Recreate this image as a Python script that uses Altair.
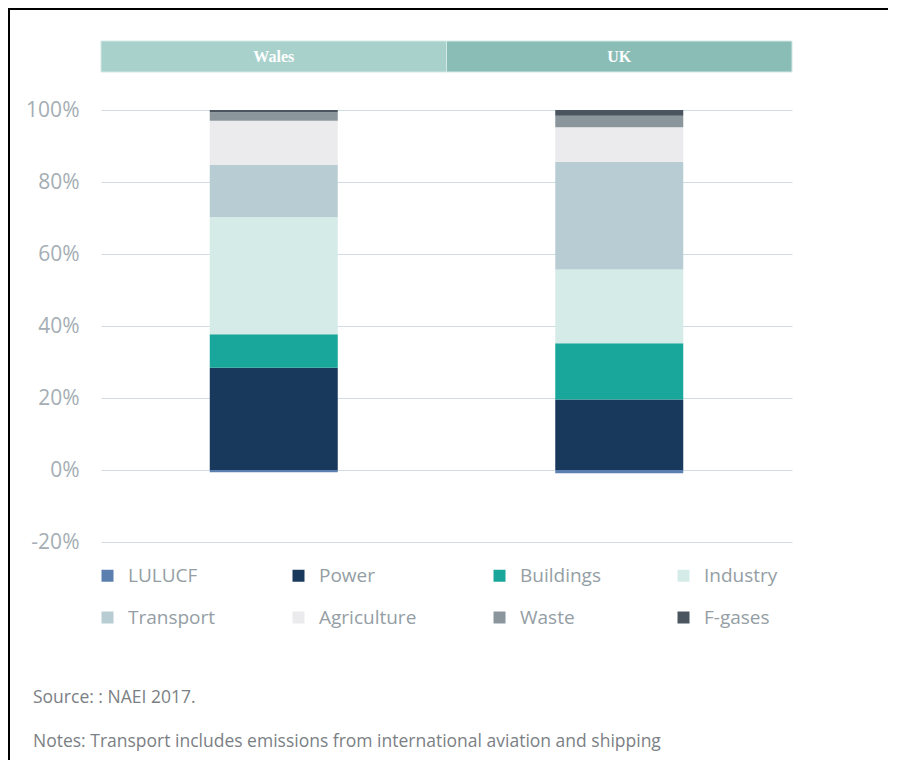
import altair as alt
import pandas as pd

regions = ["Wales", "UK"]
sectors = ["LULUCF", "Power", "Buildings", "Industry", "Transport", "Agriculture", "Waste", "F-gases"]
wales_share = [-0.6, 28.4, 9.3, 32.5, 14.5, 12.3, 2.4, 0.6]
uk_share = [-0.9, 19.6, 15.6, 20.5, 29.9, 9.6, 3.2, 1.6]
y_ticks = [-20, 0, 20, 40, 60, 80, 100]
source_note = "Source: : NAEI 2017."
notes_text = "Notes: Transport includes emissions from international aviation and shipping"

sector_colors = ["#5b7fae", "#19395c", "#1aa79b", "#d5ebe8", "#b7ccd3", "#ebebed", "#8a969c", "#4a5560"]

rows = []
for region, values in zip(regions, [wales_share, uk_share]):
    for i, (s, v) in enumerate(zip(sectors, values)):
        rows.append({"region": region, "sector": s, "share": v, "order": i})
df = pd.DataFrame(rows)

W, H = 691, 432
xscale = alt.Scale(domain=regions, paddingInner=0, paddingOuter=0)

bars = alt.Chart(df).mark_bar(width=128).encode(
    x=alt.X("region:N", scale=xscale, sort=regions, axis=None),
    y=alt.Y("share:Q", stack="zero",
            scale=alt.Scale(domain=[-20, 100], nice=False),
            axis=alt.Axis(values=y_ticks, labelExpr="datum.value + '%'", grid=True,
                          gridColor="#cfdde3", gridWidth=1, domain=False, ticks=False,
                          labelPadding=22, labelFontSize=21, labelColor="#a4aeb4",
                          labelFont="Open Sans", title=None)),
    color=alt.Color("sector:N", scale=alt.Scale(domain=sectors, range=sector_colors),
                    legend=alt.Legend(title=None, orient="none", legendX=-3, legendY=456,
                                      direction="horizontal",
                                      columns=4, columnPadding=73, rowPadding=22,
                                      symbolType="square", symbolSize=144,
                                      symbolStrokeWidth=0, symbolOpacity=1,
                                      labelFontSize=19, labelColor="#949ea4",
                                      labelFont="Open Sans", labelOffset=11)),
    order=alt.Order("order:Q"),
)

hdr_df = pd.DataFrame({"region": regions})
header = alt.Chart(hdr_df).mark_rect(stroke="#d3e9e6", strokeWidth=1).encode(
    x=alt.X("region:N", scale=xscale, sort=regions, axis=None),
    y=alt.value(-69), y2=alt.value(-38),
    fill=alt.condition(alt.datum.region == "Wales", alt.value("#a8d1cc"), alt.value("#8bbdb7")),
)
header_text = alt.Chart(hdr_df).mark_text(font="Liberation Serif", fontWeight="bold",
                                          fontSize=16, color="white").encode(
    x=alt.X("region:N", scale=xscale, sort=regions, axis=None),
    y=alt.value(-53),
    text="region:N",
)

frame_left = alt.Chart(hdr_df).mark_rule(color="black", strokeWidth=2).encode(
    x=alt.value(-92), y=alt.value(-102), y2=alt.value(H + 230))
frame_top = alt.Chart(hdr_df).mark_rule(color="black", strokeWidth=2).encode(
    x=alt.value(-93), x2=alt.value(W + 110), y=alt.value(-101))

src = alt.Chart(pd.DataFrame({"t": [source_note]})).mark_text(
    align="left", baseline="middle", font="Open Sans", fontSize=17.5, color="#7b8085").encode(
    x=alt.value(-68), y=alt.value(588), text="t:N")
notes = alt.Chart(pd.DataFrame({"t": [notes_text]})).mark_text(
    align="left", baseline="middle", font="Open Sans", fontSize=17.5, color="#7b8085").encode(
    x=alt.value(-68), y=alt.value(632), text="t:N")

chart = alt.layer(header, header_text, bars, frame_left, frame_top, src, notes).properties(
    width=W, height=H,
    padding={"left": 93, "top": 102, "right": 96, "bottom": 218},
    autosize="none",
).configure(font="Open Sans").configure_view(stroke=None)

chart.save("out.html", embed_options={"renderer": "svg", "actions": False})
